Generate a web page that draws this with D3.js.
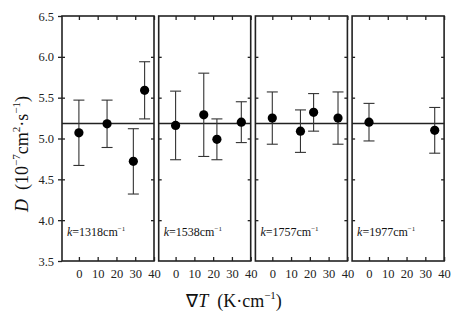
<!DOCTYPE html>
<html>
<head>
<meta charset="utf-8">
<script src="https://cdnjs.cloudflare.com/ajax/libs/d3/7.8.5/d3.min.js"></script>
<style>
  body { margin: 0; background: #fff; }
  .axis path { display: none; }
  .axis line { stroke: #222; stroke-width: 1.3; }
</style>
</head>
<body>
<div id="chart"></div>
<script>
// wave numbers k (cm^-1), one panel each
const panels = ["1318", "1538", "1757", "1977"];

// gradient values (K/cm), D values (1e-7 cm^2/s), error half widths
const gradT = [
  [0, 15, 29, 35],
  [0, 15, 22, 35],
  [0, 15, 22, 35],
  [0, 35]
];
const dVal = [
  [5.07, 5.18, 4.72, 5.59],
  [5.16, 5.29, 4.99, 5.20],
  [5.25, 5.09, 5.32, 5.25],
  [5.20, 5.10]
];
const dErr = [
  [0.40, 0.29, 0.40, 0.35],
  [0.42, 0.51, 0.25, 0.25],
  [0.32, 0.26, 0.23, 0.32],
  [0.23, 0.28]
];
const meanD = 5.185;

const xTicks = [0, 10, 20, 30, 40];
const yTicks = [3.5, 4.0, 4.5, 5.0, 5.5, 6.0, 6.5];

const FONT = "Liberation Serif";
const width = 463, height = 320;
const plotTop = 16, plotBottom = 261, left0 = 62, panelW = 92, step = 96.7;

const svg = d3.select("#chart").append("svg")
  .attr("width", width).attr("height", height);

const y = d3.scaleLinear().domain([3.5, 6.5]).range([plotBottom, plotTop]);
const x = d3.scaleLinear().domain([-9, 40]).range([0, panelW]);

function styleAxis(sel) {
  sel.attr("font-family", FONT).attr("font-size", 12.5);
  sel.selectAll("text").attr("fill", "#222");
}

panels.forEach(function(k, i) {
  const g = svg.append("g")
    .attr("transform", "translate(" + (left0 + i * step) + ",0)");

  // bottom axis, ticks pointing in
  const xb = g.append("g").attr("class", "axis")
    .attr("transform", "translate(0," + plotBottom + ")")
    .call(d3.axisBottom(x).tickValues(xTicks).tickSizeInner(-4).tickSizeOuter(0).tickPadding(8));
  styleAxis(xb);
  xb.selectAll("text").attr("dy", "0.71em");

  // top axis, no labels
  g.append("g").attr("class", "axis")
    .attr("transform", "translate(0," + plotTop + ")")
    .call(d3.axisTop(x).tickValues(xTicks).tickSizeInner(-4).tickSizeOuter(0).tickFormat(""));

  // small inward ticks on both sides
  g.append("g").attr("class", "axis")
    .call(d3.axisLeft(y).tickValues(yTicks.slice(1, -1)).tickSizeInner(-3).tickSizeOuter(0).tickFormat(""));
  g.append("g").attr("class", "axis")
    .attr("transform", "translate(" + panelW + ",0)")
    .call(d3.axisRight(y).tickValues(yTicks.slice(1, -1)).tickSizeInner(-3).tickSizeOuter(0).tickFormat(""));

  if (i === 0) {
    const ya = g.append("g").attr("class", "axis")
      .call(d3.axisLeft(y).tickValues(yTicks).tickSizeInner(4).tickSizeOuter(0).tickPadding(4)
        .tickFormat(d3.format(".1f")));
    styleAxis(ya);
  }

  // frame
  g.append("rect")
    .attr("x", 0).attr("y", plotTop)
    .attr("width", panelW).attr("height", plotBottom - plotTop)
    .attr("fill", "none").attr("stroke", "#222").attr("stroke-width", 1.6);

  // mean line
  g.append("line")
    .attr("x1", 0).attr("x2", panelW)
    .attr("y1", y(meanD)).attr("y2", y(meanD))
    .attr("stroke", "#222").attr("stroke-width", 1.5);

  const pts = gradT[i].map(function(t, j) {
    return { t: t, d: dVal[i][j], e: dErr[i][j] };
  });

  const eb = g.selectAll(".eb").data(pts).enter().append("g").attr("class", "eb")
    .attr("stroke", "#333").attr("stroke-width", 1.1);
  eb.append("line")
    .attr("x1", d => x(d.t)).attr("x2", d => x(d.t))
    .attr("y1", d => y(d.d + d.e)).attr("y2", d => y(d.d - d.e));
  eb.append("line")
    .attr("x1", d => x(d.t) - 5.5).attr("x2", d => x(d.t) + 5.5)
    .attr("y1", d => y(d.d + d.e)).attr("y2", d => y(d.d + d.e));
  eb.append("line")
    .attr("x1", d => x(d.t) - 5.5).attr("x2", d => x(d.t) + 5.5)
    .attr("y1", d => y(d.d - d.e)).attr("y2", d => y(d.d - d.e));

  g.selectAll(".pt").data(pts).enter().append("circle")
    .attr("cx", d => x(d.t)).attr("cy", d => y(d.d)).attr("r", 4.6)
    .attr("fill", "#000");

  // panel label
  const lab = g.append("text")
    .attr("x", 5).attr("y", 236)
    .attr("font-family", FONT)
    .attr("font-size", 12).attr("fill", "#111");
  lab.append("tspan").attr("font-style", "italic").text("k");
  lab.append("tspan").text("=" + k + "cm");
  lab.append("tspan").attr("font-size", 7).attr("dy", -5).text("\u22121");
});

// x axis title
const xt = svg.append("text")
  .attr("x", 234).attr("y", 307)
  .attr("font-family", FONT)
  .attr("text-anchor", "middle").attr("font-size", 18).attr("fill", "#111");
xt.append("tspan").text("\u2207");
xt.append("tspan").attr("font-style", "italic").text("T");
xt.append("tspan").text("\u2002(K\u00b7cm");
xt.append("tspan").attr("font-size", 11).attr("dy", -8).text("\u22121");
xt.append("tspan").attr("dy", 8).text(")");

// y axis title
const yt = svg.append("text")
  .attr("transform", "translate(28,154) rotate(-90)")
  .attr("font-family", FONT)
  .attr("text-anchor", "middle").attr("font-size", 18).attr("fill", "#111");
yt.append("tspan").attr("font-style", "italic").text("D");
yt.append("tspan").text("\u2002(10");
yt.append("tspan").attr("font-size", 11).attr("dy", -8).text("\u22127");
yt.append("tspan").attr("dy", 8).text("cm");
yt.append("tspan").attr("font-size", 11).attr("dy", -8).text("2");
yt.append("tspan").attr("dy", 8).text("\u00b7s");
yt.append("tspan").attr("font-size", 11).attr("dy", -8).text("\u22121");
yt.append("tspan").attr("dy", 8).text(")");
</script>
</body>
</html>
